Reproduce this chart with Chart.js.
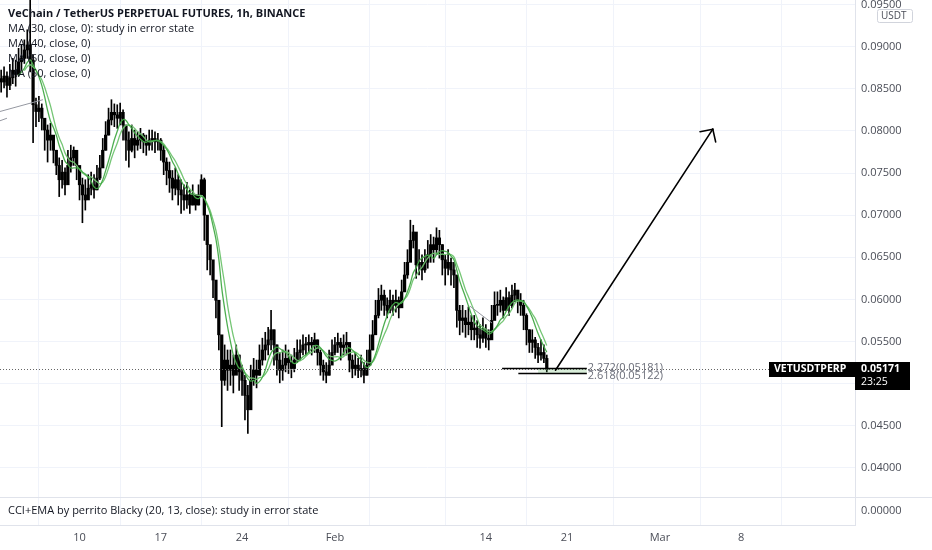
<!DOCTYPE html>
<html>
<head>
<meta charset="utf-8">
<title>VETUSDTPERP 1h</title>
<script src="https://cdn.jsdelivr.net/npm/chart.js@4.4.1/dist/chart.umd.min.js"></script>
<style>
  html, body { margin: 0; padding: 0; background: #fff; }
  #wrap { width: 932px; height: 550px; position: relative; }
</style>
</head>
<body>
<div id="wrap"><canvas id="chart"></canvas></div>
<script>
// Candles, 6h each (day of year, Jan 1 = 1)
const startDay = 3.25;
const stepDays = 0.25;
const firstOpen = 0.0862;

const closes = [
  0.0858, 0.0865, 0.0854,
  0.0863, 0.0872, 0.0867, 0.0882,
  0.0886, 0.0896, 0.0902, 0.0884,
  0.0831, 0.0823, 0.0827, 0.0815,
  0.0801, 0.0789, 0.0795, 0.0777,
  0.0759, 0.0742, 0.0751, 0.0736,
  0.0759, 0.0768, 0.0777, 0.0759,
  0.0736, 0.0724, 0.0718, 0.0732,
  0.0736, 0.0730, 0.0744, 0.0756,
  0.0777, 0.0795, 0.0813, 0.0822,
  0.0819, 0.0815, 0.0822, 0.0807,
  0.0789, 0.0777, 0.0791, 0.0783,
  0.0789, 0.0795, 0.0787, 0.0783,
  0.0789, 0.0791, 0.0787, 0.0789,
  0.0777, 0.0763, 0.0753, 0.0744,
  0.0732, 0.0742, 0.0730, 0.0724,
  0.0718, 0.0724, 0.0712, 0.0724,
  0.0712, 0.0724, 0.0742, 0.0700,
  0.0665, 0.0647, 0.0623, 0.0599,
  0.0558, 0.0504, 0.0528, 0.0516,
  0.0522, 0.0510, 0.0534, 0.0514,
  0.0504, 0.0486, 0.0469, 0.0504,
  0.0516, 0.0510, 0.0528, 0.0540,
  0.0546, 0.0552, 0.0564, 0.0546,
  0.0528, 0.0516, 0.0522, 0.0530,
  0.0525, 0.0518, 0.0528, 0.0537,
  0.0540, 0.0546, 0.0546, 0.0549,
  0.0546, 0.0552, 0.0537, 0.0522,
  0.0514, 0.0510, 0.0522, 0.0537,
  0.0546, 0.0549, 0.0543, 0.0546,
  0.0549, 0.0528, 0.0518, 0.0522,
  0.0516, 0.0518, 0.0510, 0.0522,
  0.0540, 0.0558, 0.0581, 0.0599,
  0.0605, 0.0593, 0.0587, 0.0599,
  0.0593, 0.0599, 0.0590, 0.0609,
  0.0629, 0.0644, 0.0670, 0.0680,
  0.0641, 0.0644, 0.0635, 0.0644,
  0.0653, 0.0665, 0.0659, 0.0673,
  0.0665, 0.0647, 0.0637, 0.0644,
  0.0635, 0.0629, 0.0587, 0.0575,
  0.0578, 0.0570, 0.0573, 0.0564,
  0.0566, 0.0558, 0.0554, 0.0564,
  0.0554, 0.0552, 0.0575, 0.0593,
  0.0593, 0.0599, 0.0587, 0.0602,
  0.0593, 0.0605, 0.0611, 0.0599,
  0.0593, 0.0581, 0.0564, 0.0549,
  0.0552, 0.0543, 0.0534, 0.0537,
  0.0530, 0.05171
];

const highs = [
  0.0872, 0.0876, 0.0870,
  0.0879, 0.0886, 0.0884, 0.0898,
  0.0902, 0.0908, 0.0920, 0.0955,
  0.0890, 0.0839, 0.0841, 0.0832,
  0.0813, 0.0807, 0.0809, 0.0791,
  0.0777, 0.0768, 0.0765, 0.0756,
  0.0777, 0.0783, 0.0781, 0.0775,
  0.0753, 0.0744, 0.0742, 0.0748,
  0.0751, 0.0748, 0.0759, 0.0771,
  0.0791, 0.0811, 0.0827, 0.0837,
  0.0832, 0.0831, 0.0833, 0.0825,
  0.0803, 0.0799, 0.0807, 0.0801,
  0.0799, 0.0803, 0.0797, 0.0795,
  0.0801, 0.0801, 0.0799, 0.0797,
  0.0791, 0.0783, 0.0768, 0.0763,
  0.0753, 0.0756, 0.0748, 0.0742,
  0.0736, 0.0739, 0.0730, 0.0736,
  0.0724, 0.0736, 0.0748, 0.0744,
  0.0682, 0.0661, 0.0644, 0.0617,
  0.0587, 0.0546, 0.0546, 0.0540,
  0.0540, 0.0534, 0.0546, 0.0534,
  0.0522, 0.0510, 0.0498, 0.0522,
  0.0530, 0.0528, 0.0546, 0.0554,
  0.0561, 0.0567, 0.0587, 0.0564,
  0.0546, 0.0537, 0.0540, 0.0546,
  0.0540, 0.0534, 0.0542, 0.0552,
  0.0552, 0.0558, 0.0555, 0.0558,
  0.0555, 0.0560, 0.0552, 0.0540,
  0.0528, 0.0525, 0.0540, 0.0552,
  0.0555, 0.0560, 0.0554, 0.0558,
  0.0561, 0.0546, 0.0534, 0.0537,
  0.0530, 0.0534, 0.0525, 0.0540,
  0.0558, 0.0575, 0.0599, 0.0613,
  0.0617, 0.0611, 0.0602, 0.0611,
  0.0605, 0.0611, 0.0603, 0.0623,
  0.0644, 0.0659, 0.0694, 0.0688,
  0.0656, 0.0659, 0.0653, 0.0659,
  0.0670, 0.0677, 0.0674, 0.0685,
  0.0682, 0.0665, 0.0653, 0.0659,
  0.0649, 0.0644, 0.0617, 0.0593,
  0.0593, 0.0587, 0.0591, 0.0581,
  0.0581, 0.0575, 0.0570, 0.0578,
  0.0570, 0.0564, 0.0593, 0.0609,
  0.0609, 0.0611, 0.0603, 0.0614,
  0.0609, 0.0617, 0.0619, 0.0611,
  0.0607, 0.0599, 0.0583, 0.0564,
  0.0564, 0.0555, 0.0548, 0.0552,
  0.0546, 0.0534
];

const lows = [
  0.0846, 0.0851, 0.0840,
  0.0849, 0.0856, 0.0853, 0.0865,
  0.0872, 0.0880, 0.0886, 0.0870,
  0.0786, 0.0805, 0.0811, 0.0801,
  0.0777, 0.0763, 0.0777, 0.0762,
  0.0748, 0.0722, 0.0732, 0.0724,
  0.0739, 0.0751, 0.0759, 0.0742,
  0.0718, 0.0691, 0.0706, 0.0720,
  0.0724, 0.0720, 0.0730, 0.0742,
  0.0759, 0.0777, 0.0795, 0.0807,
  0.0805, 0.0803, 0.0807, 0.0789,
  0.0765, 0.0757, 0.0775, 0.0768,
  0.0777, 0.0779, 0.0774, 0.0771,
  0.0777, 0.0777, 0.0774, 0.0777,
  0.0765, 0.0748, 0.0736, 0.0727,
  0.0718, 0.0724, 0.0712, 0.0702,
  0.0706, 0.0708, 0.0702, 0.0712,
  0.0706, 0.0712, 0.0728, 0.0670,
  0.0635, 0.0629, 0.0602, 0.0578,
  0.0540, 0.0449, 0.0498, 0.0492,
  0.0498, 0.0489, 0.0514, 0.0492,
  0.0486, 0.0457, 0.0441, 0.0486,
  0.0498, 0.0495, 0.0510, 0.0522,
  0.0528, 0.0534, 0.0540, 0.0522,
  0.0510, 0.0501, 0.0504, 0.0514,
  0.0512, 0.0507, 0.0514, 0.0525,
  0.0528, 0.0534, 0.0534, 0.0537,
  0.0534, 0.0537, 0.0522, 0.0510,
  0.0504, 0.0501, 0.0510, 0.0525,
  0.0534, 0.0537, 0.0528, 0.0534,
  0.0534, 0.0514, 0.0507, 0.0510,
  0.0507, 0.0508, 0.0501, 0.0510,
  0.0522, 0.0540, 0.0564, 0.0578,
  0.0587, 0.0581, 0.0578, 0.0584,
  0.0581, 0.0585, 0.0578, 0.0593,
  0.0609, 0.0625, 0.0649, 0.0661,
  0.0625, 0.0629, 0.0623, 0.0632,
  0.0637, 0.0644, 0.0644, 0.0653,
  0.0649, 0.0629, 0.0617, 0.0629,
  0.0617, 0.0614, 0.0567, 0.0558,
  0.0561, 0.0555, 0.0558, 0.0552,
  0.0552, 0.0543, 0.0542, 0.0549,
  0.0543, 0.0540, 0.0558, 0.0578,
  0.0581, 0.0585, 0.0578, 0.0587,
  0.0581, 0.0590, 0.0597, 0.0584,
  0.0581, 0.0564, 0.0546, 0.0537,
  0.0537, 0.0530, 0.0525, 0.0528,
  0.0525, 0.0514
];

// MA windows in 6h candles (about 40h and 50h)
const maWindows = [7, 9];
const maColors = ['rgba(67,170,71,0.95)', 'rgba(110,195,110,0.95)'];

// Axis ticks (Feb 7 has a grid line but no label)
const xTickDays = [10, 17, 24, 32, 38, 45, 52, 60, 67];
const xTickLabels = ['10', '17', '24', 'Feb', '', '14', '21', 'Mar', '8'];
const priceTicks = [0.040, 0.045, 0.050, 0.055, 0.060, 0.065, 0.070, 0.075, 0.080, 0.085, 0.090, 0.095];

// Drawings on the chart (day, price)
const lastPrice = 0.05171;
const arrowFrom = [51.0, 0.0516];
const arrowTo = [64.55, 0.0802];
const fibLevels = [
  { label: '2.272(0.05181)', price: 0.05181, fromDay: 46.4 },
  { label: '2.618(0.05122)', price: 0.05122, fromDay: 47.8 }
];
const fibToDay = 53.7;
const fibFillFromDay = 49.5;
const trendLines = [
  [3.15, 0.0823, 6.85, 0.0837],
  [3.15, 0.0812, 3.75, 0.0815],
  [43.63, 0.0592, 45.53, 0.0572]
];

const legendLines = [
  'MA (30, close, 0): study in error state',
  'MA (40, close, 0)',
  'MA (50, close, 0)',
  'MA (50, close, 0)'
];

const FONT = '"Open Sans", "DejaVu Sans", sans-serif';

// build datasets
const days = closes.map((c, i) => startDay + i * stepDays);
const opens = closes.map((c, i) => i === 0 ? firstOpen : closes[i - 1]);

function movingAverage(values, n) {
  const out = [];
  for (let i = n - 1; i < values.length; i++) {
    let s = 0;
    for (let k = i - n + 1; k <= i; k++) s += values[k];
    out.push({ x: days[i], y: s / n });
  }
  return out;
}

const wickData = days.map((d, i) => ({ x: d, y: [lows[i], highs[i]] }));
const bodyData = days.map((d, i) => ({ x: d, y: [opens[i], closes[i]] }));

const datasets = [
  { type: 'bar', data: wickData, backgroundColor: '#000', barThickness: 1, grouped: false, order: 2 },
  { type: 'bar', data: bodyData, backgroundColor: '#000', barThickness: 2.6, minBarLength: 1, grouped: false, order: 2 }
];
maWindows.forEach((n, k) => {
  datasets.push({
    type: 'line', data: movingAverage(closes, n), borderColor: maColors[k],
    borderWidth: 1.3, pointRadius: 0, tension: 0.35, order: 0
  });
});

function seg(ctx, x1, y1, x2, y2) {
  ctx.beginPath(); ctx.moveTo(x1, y1); ctx.lineTo(x2, y2); ctx.stroke();
}

const overlay = {
  id: 'overlay',
  afterDatasetsDraw(chart) {
    const { ctx, chartArea: a, scales: { x, y } } = chart;
    const paneBottom = a.bottom - 28;
    ctx.save();
    ctx.beginPath(); ctx.rect(a.left, a.top, a.right - a.left, paneBottom - a.top); ctx.clip();

    // last price dotted line
    const py = y.getPixelForValue(lastPrice);
    ctx.strokeStyle = '#666'; ctx.lineWidth = 1; ctx.setLineDash([1, 2]);
    seg(ctx, a.left, Math.round(py) + 0.5, a.right, Math.round(py) + 0.5);
    ctx.setLineDash([]);

    // grey trend lines
    ctx.strokeStyle = '#9598a1';
    trendLines.forEach(t => seg(ctx, x.getPixelForValue(t[0]), y.getPixelForValue(t[1]),
      x.getPixelForValue(t[2]), y.getPixelForValue(t[3])));

    // fib extension
    const fx2 = x.getPixelForValue(fibToDay);
    const fy1 = y.getPixelForValue(fibLevels[0].price);
    const fy2 = y.getPixelForValue(fibLevels[1].price);
    ctx.fillStyle = 'rgba(76,175,80,0.22)';
    ctx.fillRect(x.getPixelForValue(fibFillFromDay), fy1, fx2 - x.getPixelForValue(fibFillFromDay), fy2 - fy1);
    ctx.strokeStyle = '#000'; ctx.lineWidth = 1.5;
    fibLevels.forEach(f => {
      const fy = y.getPixelForValue(f.price);
      seg(ctx, x.getPixelForValue(f.fromDay), fy, fx2, fy);
    });
    ctx.font = '11px ' + FONT; ctx.fillStyle = '#6a6d78'; ctx.textBaseline = 'middle'; ctx.textAlign = 'left';
    fibLevels.forEach((f, i) => ctx.fillText(f.label, fx2 + 1, y.getPixelForValue(f.price) + (i === 0 ? -1 : 2)));

    // arrow
    const ax1 = x.getPixelForValue(arrowFrom[0]), ay1 = y.getPixelForValue(arrowFrom[1]);
    const ax2 = x.getPixelForValue(arrowTo[0]), ay2 = y.getPixelForValue(arrowTo[1]);
    ctx.strokeStyle = '#000'; ctx.lineWidth = 1.6; ctx.lineCap = 'round';
    seg(ctx, ax1, ay1, ax2, ay2);
    const back = Math.atan2(ay1 - ay2, ax1 - ax2);
    [-0.8, 0.8].forEach(d => seg(ctx, ax2, ay2, ax2 + 13 * Math.cos(back + d), ay2 + 13 * Math.sin(back + d)));
    ctx.restore();
  },
  afterDraw(chart) {
    const { ctx, chartArea: a, scales: { y } } = chart;
    const paneBottom = a.bottom - 28;
    ctx.save();
    // pane separator
    ctx.strokeStyle = '#e0e3eb'; ctx.lineWidth = 1;
    seg(ctx, 0, paneBottom + 0.5, chart.width, paneBottom + 0.5);

    // legend text
    ctx.fillStyle = '#131722'; ctx.textBaseline = 'middle'; ctx.textAlign = 'left';
    ctx.font = 'bold 11px ' + FONT;
    ctx.fillText('VeChain / TetherUS PERPETUAL FUTURES, 1h, BINANCE', 8, 14);
    ctx.font = '11px ' + FONT;
    legendLines.forEach((t, i) => ctx.fillText(t, 8, 29 + i * 15));
    ctx.fillText('CCI+EMA by perrito Blacky (20, 13, close): study in error state', 8, paneBottom + 14);
    ctx.fillStyle = '#4a4d57';
    ctx.fillText('0.00000', a.right + 6, paneBottom + 14);

    // USDT badge
    ctx.fillStyle = '#fff'; ctx.strokeStyle = '#d1d4dc';
    ctx.beginPath(); ctx.roundRect(a.right + 22.5, 9.5, 35, 13, 2); ctx.fill(); ctx.stroke();
    ctx.fillStyle = '#4a4d57'; ctx.font = '10px ' + FONT;
    ctx.fillText('USDT', a.right + 26, 16.5);

    // last price labels
    const py = Math.round(y.getPixelForValue(lastPrice));
    ctx.fillStyle = '#000';
    ctx.fillRect(a.right - 86, py - 7, 86, 15);
    ctx.fillRect(a.right, py - 7, 55, 28);
    ctx.fillStyle = '#fff'; ctx.font = 'bold 10.5px ' + FONT;
    ctx.fillText('VETUSDTPERP', a.right - 81, py + 0.5);
    ctx.fillText(lastPrice.toFixed(5), a.right + 6, py + 0.5);
    ctx.font = '10.5px ' + FONT;
    ctx.fillText('23:25', a.right + 6, py + 13);
    ctx.restore();
  }
};

new Chart(document.getElementById('chart'), {
  data: { datasets },
  options: {
    responsive: true,
    maintainAspectRatio: false,
    animation: false,
    layout: { padding: 0 },
    plugins: { legend: { display: false }, tooltip: { enabled: false } },
    scales: {
      x: {
        type: 'linear', min: 3.15, max: 76.8, offset: false,
        grid: { color: '#f0f3fa', drawTicks: false },
        border: { color: '#e0e3eb' },
        afterBuildTicks: s => { s.ticks = xTickDays.map(v => ({ value: v })); },
        afterFit: s => { s.height = 25; s.paddingLeft = 0; s.paddingRight = 0; },
        ticks: {
          padding: 6, color: '#4a4d57', font: { family: FONT, size: 11 },
          maxRotation: 0, autoSkip: false,
          callback: (v, i) => xTickLabels[i]
        }
      },
      y: {
        type: 'linear', position: 'right', min: 0.03323, max: 0.09553,
        grid: { color: '#f0f3fa', drawTicks: false },
        border: { color: '#e0e3eb' },
        afterBuildTicks: s => { s.ticks = priceTicks.map(v => ({ value: v })); },
        afterFit: s => { s.width = 77; s.paddingTop = 0; s.paddingBottom = 0; },
        ticks: {
          padding: 6, color: '#4a4d57', font: { family: FONT, size: 11 }, autoSkip: false,
          callback: v => v.toFixed(5)
        }
      }
    }
  },
  plugins: [overlay]
});
</script>
</body>
</html>
